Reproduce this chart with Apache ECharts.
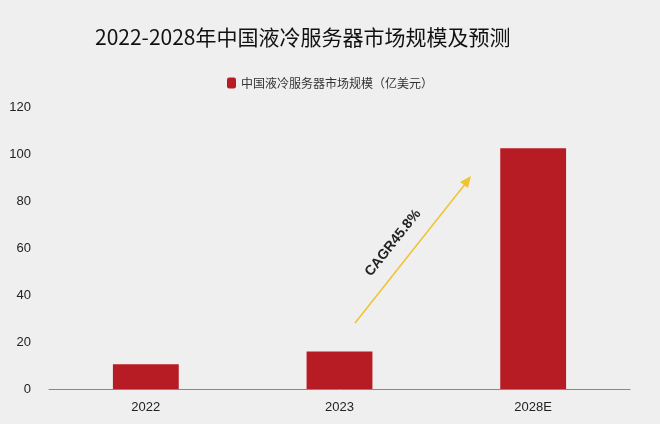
<!DOCTYPE html>
<html>
<head>
<meta charset="UTF-8"/>
<script src="https://cdn.jsdelivr.net/npm/echarts@6/dist/echarts.min.js"></script>
<style>body{margin:0;background:#efefef}</style>
</head>
<body>
<div id="main" style="width:660px;height:424px"></div>
<script>
var years = ['2022', '2023', '2028E'];
var marketSize = [10.5, 16, 102.5];
var seriesName = '中国液冷服务器市场规模（亿美元）';

var myChart = echarts.init(document.getElementById('main'));
var option = {
    backgroundColor: '#efefef',
    title: {
        text: '2022-2028年中国液冷服务器市场规模及预测',
        left: 90, top: 22,
        textStyle: {fontSize: 21, fontWeight: 'normal', color: '#111', fontFamily: 'Noto Sans CJK SC'}
    },
    legend: {
        top: 72, left: 'center',
        itemWidth: 9, itemHeight: 11,
        textStyle: {fontSize: 12, color: '#333', fontFamily: 'Noto Sans CJK SC'}
    },
    grid: {left: 49, right: 30, top: 107, bottom: 35},
    xAxis: {
        type: 'category', data: years,
        axisLine: {lineStyle: {color: '#888'}},
        axisTick: {show: false},
        axisLabel: {color: '#222', fontSize: 13, margin: 12}
    },
    yAxis: {
        type: 'value', min: 0, max: 120, interval: 20,
        splitLine: {show: false},
        axisLine: {show: false},
        axisLabel: {color: '#222', fontSize: 13, margin: 18}
    },
    series: [{
        name: seriesName, type: 'bar', barWidth: '34%',
        itemStyle: {color: '#b71c24'},
        data: marketSize
    }],
    graphic: [
        {type: 'line', shape: {x1: 355, y1: 323, x2: 466, y2: 183},
         style: {stroke: '#f2c230', lineWidth: 1.5}},
        {type: 'polygon', shape: {points: [[471, 176], [468, 188], [460, 182]]},
         style: {fill: '#f2c230'}},
        {type: 'text', x: 393, y: 243, rotation: 51.6 * Math.PI / 180,
         style: {text: 'CAGR45.8%', fill: '#222', font: 'bold 14px "Liberation Sans Narrow", "Liberation Sans"', align: 'center', verticalAlign: 'middle'}}
    ]
};
myChart.setOption(option);
</script>
</body>
</html>
